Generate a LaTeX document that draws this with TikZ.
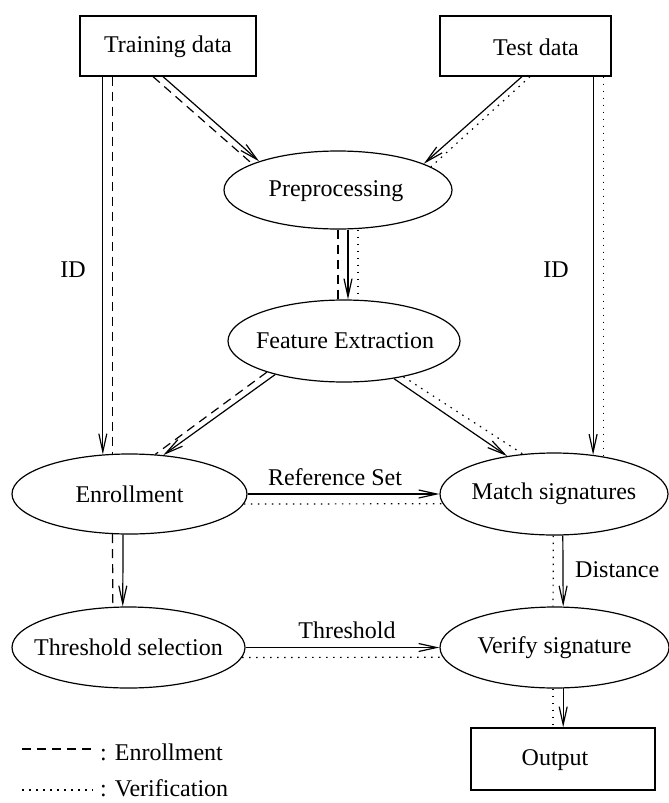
\documentclass[tikz,border=0pt]{standalone}
\usepackage{fontspec}
\setmainfont{Liberation Serif}
\usetikzlibrary{shapes.geometric,arrows.meta}
\begin{document}
\begin{tikzpicture}[x=1pt,y=-1pt,
  every node/.style={font=\fontsize{24}{28}\selectfont},
  ln/.style={line width=1.2pt},
  ell/.style={draw, ellipse, line width=1.2pt, inner sep=0pt},
  boxn/.style={draw, rectangle, line width=1.2pt, inner sep=0pt},
  arr/.style={ln, -{Straight Barb[length=18pt,width=8pt]}},
  dsh/.style={ln, dash pattern=on 9pt off 6pt},
  dtt/.style={ln, dash pattern=on 1.5pt off 5.5pt},
  lbl/.style={inner sep=0pt}
]
\useasboundingbox (0,0) rectangle (669,803);
% boxes
\node[boxn, minimum width=176pt, minimum height=60pt] (train) at (168,46) {};
\node[lbl] (traint) at (168,47) {Training data};
\node[boxn, minimum width=171pt, minimum height=60pt] (test) at (525.5,46) {};
\node[lbl] (testt) at (536,47) {Test data};
\node[boxn, minimum width=184pt, minimum height=62pt] (out) at (563,759) {};
\node[lbl] (outt) at (555,760) {Output};
% ellipses
\node[ell, minimum width=228pt, minimum height=78pt] (pre) at (338,190) {};
\node[lbl] (pret) at (336,191) {Preprocessing};
\node[ell, minimum width=232pt, minimum height=82pt] (fe) at (344,341) {};
\node[lbl] (fet) at (345,341) {Feature Extraction};
\node[ell, minimum width=235pt, minimum height=80pt, label={center:Enrollment}] (enr) at (129.5,494) {};
\node[ell, minimum width=228pt, minimum height=82pt, label={center:Match signatures}] (ms) at (554,494) {};
\node[ell, minimum width=233pt, minimum height=81pt, label={center:Threshold selection}] (thr) at (128.5,647.5) {};
\node[ell, minimum width=229pt, minimum height=81pt, label={center:Verify signature}] (vs) at (554.5,647.5) {};
% labels
\node[lbl] (idl) at (73,270) {ID};
\node[lbl] (idr) at (556,270) {ID};
\node[lbl] (rs) at (335,477) {Reference Set};
\node[lbl] (thl) at (347,630) {Threshold};
\node[lbl, anchor=west] (dist) at (575,570) {Distance};
% x positions of the vertical connectors between preprocessing and feature extraction
\coordinate (xa) at (338,0);
\coordinate (xb) at (348,0);
\coordinate (xc) at (358,0);
% training data
\draw[arr] (enr.124 |- train.south) -- (enr.124);
\draw[dsh] (enr.113 |- train.south) -- (enr.113);
\draw[arr] ([xshift=-5pt]train.south) -- (pre.160);
\draw[dsh] ([xshift=-15pt]train.south) -- (pre.163);
% test data
\draw[arr] ([xshift=-3.5pt]test.south) -- (pre.17);
\draw[dtt] ([xshift=4.5pt]test.south) -- (pre.14);
\draw[arr] (ms.45 |- test.south) -- (ms.45);
\draw[dtt] (ms.37 |- test.south) -- (ms.37);
% preprocessing -> feature
\draw[dsh] (xa |- pre.south) -- (xa |- fe.north);
\draw[arr] (xb |- pre.south) -- (xb |- fe.north);
\draw[dtt] (xc |- pre.south) -- (xc |- fe.north);
% feature -> enrollment / match
\draw[arr] (fe.206) -- (enr.49);
\draw[dsh] (fe.202) -- (enr.57);
\draw[arr] (fe.323) -- (ms.141);
\draw[dtt] (fe.329) -- (ms.128);
% enrollment -> match
\draw[arr] (enr.east) -- (ms.west);
\draw[dtt] (enr.355) -- (ms.185);
% enrollment -> threshold
\draw[dsh] (enr.247) -- (thr.111);
\draw[arr] (enr.261) -- (thr.98);
% threshold -> verify
\draw[arr] (thr.east) -- (vs.west);
\draw[dtt] (thr.355) -- (vs.185);
% match -> verify
\draw[dtt] (ms.269) -- (vs.92);
\draw[arr] (ms.282) -- (vs.78);
% verify -> output
\draw[dtt] (vs.268) -- (vs.268 |- out.north);
\draw[arr] (vs.282) -- (vs.282 |- out.north);
% legend
\coordinate (l1a) at (22,749);
\coordinate (l1b) at (93,749);
\coordinate (l2a) at (22,790);
\coordinate (l2b) at (93,790);
\draw[dsh] (l1a) -- (l1b);
\node[lbl, anchor=west] (leg1) at (100,752) {: Enrollment};
\draw[dtt] (l2a) -- (l2b);
\node[lbl, anchor=west] (leg2) at (100,788) {: Verification};
\end{tikzpicture}
\end{document}
